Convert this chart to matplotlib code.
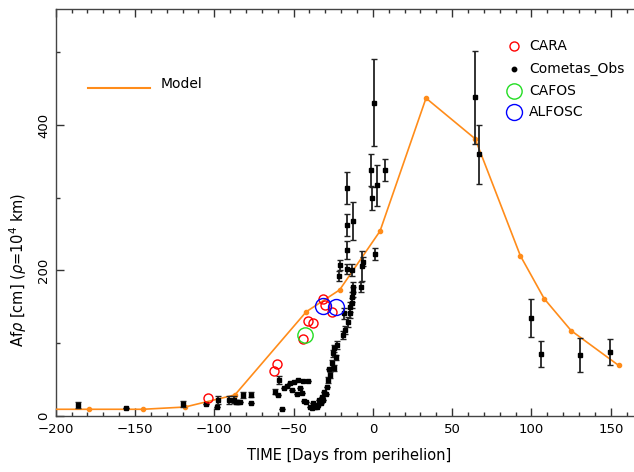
import matplotlib
matplotlib.use('Agg')
import matplotlib.pyplot as plt
from matplotlib.ticker import MultipleLocator

plt.rcParams['font.family'] = ['DejaVu Sans']

# Model curve (days from perihelion, Afrho in cm)
model_t = [-215, -179, -145, -118.5, -87, -42, -21, 4.5, 33.5, 64.5, 93, 108, 125, 155]
model_afr = [8.7, 8.7, 8.7, 11.8, 28.5, 143, 173, 254, 437, 381, 220, 161, 117, 69]

# CARA photometry
cara_t = [-104.0, -62.2, -60.2, -44.1, -41.1, -38.0, -31.4, -30.4, -26.0]
cara_afr = [24.7, 61, 70.6, 105.4, 129.8, 127, 160.5, 151.8, 142.6]

# CAFOS and ALFOSC
cafos_t = [-43.0]
cafos_afr = [110.5]
alfosc_t = [-31.3, -23.3]
alfosc_afr = [151.3, 149.9]

# Cometas_Obs amateur data
obs_t = [-186.1, -155.7, -119.9, -105.2, -97.5, -98.5, -90.7, -86.3, -84.9, -87.5,
         -82.1, -77.0, -77.0, -84.0,
         -59.0, -61.5, -60.0, -57.5, -55.9, -54.4, -52.3, -51.2, -49.7, -47.0,
         -48.0, -46.0, -44.0, -41.1, -44.5, -43.4, -42.0, -39.7, -38.5, -37.6,
         -36.5, -35.4, -34.5, -33.8, -32.8, -32.3, -31.5, -30.6, -29.5, -29.1,
         -28.1, -27.1, -26.0, -25.0, -24.5, -22.8, -23.5, -24.8, -27.5,
         -18.7, -17.6, -15.5, -14.4, -14.4, -13.4, -12.4, -18.0, -13.0, -12.6,
         -7.7, -7.1, -6.0, -21.2, -20.7, -16.5, -13.4, -16.5, -16.5, -12.8,
         -16.5, -1.4, -0.4, 2.6, 7.6, 1.5, 0.5,
         64.7, 66.8, 99.7, 105.8, 130.6, 149.5]
obs_afr = [14.6, 10.9, 16, 16, 21.5, 12.3, 21.5, 19, 18.3, 22,
           28.3, 29, 17.8, 19,
           49, 33, 28, 8.7, 37.6, 40.7, 44.4, 35.2, 46.7, 49,
           30, 38, 47, 47.2, 30.7, 20.5, 19, 12.3, 10.5, 16.9,
           12, 12.3, 15, 21.5, 18, 26, 22, 33, 30, 39.8,
           49, 55.9, 72, 85.8, 92.6, 97.2, 80, 65, 64,
           111, 117.8, 129.3, 140.8, 150, 163.7, 177.4, 140.8, 155, 170,
           177.4, 206, 211.8, 192, 207.3, 201.4, 200.4, 228, 262.4, 268.3,
           312.9, 338, 299, 317, 338, 222.4, 430.7,
           438, 359.6, 134.8, 84.8, 83.4, 88]
obs_err = [4, 0, 4, 0, 5, 0, 5, 3, 0, 5,
           4, 4, 0, 0,
           5, 3, 0, 0, 0, 0, 0, 0, 0, 0,
           0, 0, 0, 0, 0, 0, 0, 0, 0, 0,
           0, 0, 0, 0, 0, 0, 0, 0, 0, 0,
           4, 4, 5, 5, 5, 5, 4, 4, 0,
           6, 6, 7, 7, 7, 7, 7, 8, 7, 7,
           7, 21, 6, 7, 7, 7, 8, 12, 15, 26,
           22, 22, 15.6, 28, 15, 8, 60,
           64, 41, 26, 18, 24, 18]

y_ticks = [0, 200, 400]
y_labels = ['0', '200', '400']

fig = plt.figure(figsize=(6.34, 4.72), dpi=100)
ax = fig.add_axes([55.7 / 634, 56.4 / 472, 586.8 / 634, 406.3 / 472])

ax.plot(model_t, model_afr, '-o', color='#ff8c1a', lw=1.2, ms=3, zorder=3)
ax.errorbar(obs_t, obs_afr, yerr=obs_err, fmt='s', ms=3.4, color='black',
            ecolor='#222222', elinewidth=1.3, capsize=2, capthick=1, zorder=4)
ax.plot(cara_t, cara_afr, 'o', mfc='none', mec='red', ms=6.5, mew=1, zorder=5)
ax.plot(cafos_t, cafos_afr, 'o', mfc='none', mec='#22dd22', ms=11, mew=1, zorder=5)
ax.plot(alfosc_t, alfosc_afr, 'o', mfc='none', mec='blue', ms=11.5, mew=1, zorder=5)

ax.set_xlim(-200, 170)
ax.set_ylim(0, 559.3)
ax.xaxis.set_major_locator(MultipleLocator(50))
ax.xaxis.set_minor_locator(MultipleLocator(10))
ax.set_yticks(y_ticks, labels=y_labels, rotation=90, va='center', fontsize=9.5)
ax.yaxis.set_minor_locator(MultipleLocator(100))
ax.tick_params(which='both', direction='in', top=True, right=False, colors='#333333')
ax.tick_params(which='major', length=6, width=1)
ax.tick_params(which='minor', length=3, width=1)
ax.tick_params(axis='x', pad=5, labelsize=9.5, labelcolor='black')
ax.tick_params(axis='y', pad=4, labelcolor='black')
for s in ax.spines.values():
    s.set_color('#444444')
    s.set_linewidth(1)
ax.spines['right'].set_visible(False)

ax.set_xlabel('TIME [Days from perihelion]', fontsize=10.5, labelpad=9)
fig.text(18 / 634, 1 - 270 / 472, r'Af$\rho$ [cm] ($\rho$=10$^4$ km)',
         rotation=90, ha='center', va='center', fontsize=10.5)

# legend drawn by hand, like the original
lx, tx = 0.7805, 0.8066
ax.plot([lx], [0.9104], 'o', mfc='none', mec='red', ms=6.5, mew=1,
        transform=ax.transAxes, clip_on=False)
ax.text(tx, 0.9104, 'CARA', transform=ax.transAxes, va='center', fontsize=10)
ax.plot([lx], [0.8523], 'o', color='black', ms=3.2, transform=ax.transAxes, clip_on=False)
ax.text(tx, 0.8523, 'Cometas_Obs', transform=ax.transAxes, va='center', fontsize=10)
ax.plot([lx], [0.7989], 'o', mfc='none', mec='#22dd22', ms=11, mew=1,
        transform=ax.transAxes, clip_on=False)
ax.text(tx, 0.7989, 'CAFOS', transform=ax.transAxes, va='center', fontsize=10)
ax.plot([lx], [0.7480], 'o', mfc='none', mec='blue', ms=11.5, mew=1,
        transform=ax.transAxes, clip_on=False)
ax.text(tx, 0.7480, 'ALFOSC', transform=ax.transAxes, va='center', fontsize=10)
ax.plot([0.055, 0.161], [0.8056, 0.8056], color='#ff8c1a', lw=1.5, transform=ax.transAxes)
ax.text(0.178, 0.816, 'Model', transform=ax.transAxes, va='center', fontsize=10)

fig.savefig('out.png', dpi=100)
